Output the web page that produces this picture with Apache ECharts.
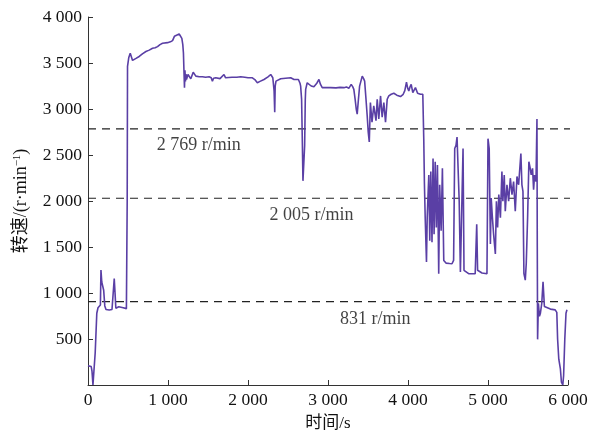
<!DOCTYPE html>
<html><head><meta charset="utf-8">
<script src="https://cdn.jsdelivr.net/npm/echarts@6/dist/echarts.min.js"></script>
<style>html,body{margin:0;padding:0;background:#fff}#c{width:597px;height:437px}</style>
</head><body><div id="c"></div>
<script>
// time (s), speed (r/min)
const speedData = [
[0,210],[20,205],[40,200],[50,150],[62,0],[75,0],[90,350],[110,780],[125,840],[145,860],[155,870],[162,1250],[172,1120],[180,1090],[188,1080],[196,1030],[210,860],[225,820],[245,830],[265,815],[285,830],[300,820],[315,830],[328,1157],[338,1000],[348,835],[365,840],[385,850],[410,845],[440,840],[465,835],[480,830],[487,840],[490,2000],[494,3464],[510,3560],[528,3607],[557,3528],[600,3550],[640,3571],[680,3600],[724,3625],[765,3640],[807,3661],[840,3665],[869,3678],[900,3700],[932,3714],[994,3721],[1030,3730],[1057,3743],[1080,3790],[1098,3804],[1140,3815],[1160,3800],[1173,3768],[1185,3700],[1193,3607],[1200,3400],[1206,3232],[1212,3420],[1218,3300],[1225,3380],[1231,3321],[1250,3375],[1285,3328],[1315,3399],[1348,3357],[1390,3350],[1431,3350],[1470,3345],[1514,3350],[1540,3340],[1555,3303],[1570,3335],[1597,3339],[1650,3330],[1700,3375],[1720,3339],[1800,3345],[1860,3345],[1909,3350],[1960,3345],[2000,3340],[2055,3339],[2085,3320],[2117,3285],[2150,3300],[2200,3321],[2250,3350],[2284,3375],[2310,3340],[2317,3321],[2326,3200],[2334,2964],[2340,3250],[2350,3303],[2409,3328],[2470,3335],[2534,3339],[2575,3320],[2596,3303],[2630,3321],[2650,3280],[2658,3249],[2670,3106],[2680,2600],[2687,2219],[2700,2219],[2708,2600],[2716,3100],[2721,3214],[2740,3285],[2790,3250],[2824,3242],[2860,3280],[2887,3321],[2905,3270],[2928,3232],[2980,3232],[3032,3232],[3100,3230],[3150,3235],[3199,3232],[3230,3240],[3260,3225],[3290,3267],[3310,3240],[3323,3214],[3340,3100],[3353,3000],[3365,2945],[3380,3100],[3395,3249],[3428,3357],[3445,3330],[3458,3303],[3475,3106],[3490,2927],[3503,2749],[3516,2642],[3530,3071],[3550,2856],[3572,3034],[3600,2874],[3615,3106],[3635,2892],[3657,3142],[3677,2910],[3698,3071],[3719,2856],[3740,3106],[3760,3142],[3790,3160],[3823,3171],[3860,3150],[3906,3135],[3940,3160],[3960,3200],[3981,3292],[3995,3230],[4010,3196],[4025,3240],[4040,3267],[4060,3178],[4093,3232],[4120,3171],[4156,3160],[4185,3160],[4197,2677],[4205,2200],[4215,1819],[4231,1336],[4240,1819],[4260,2283],[4272,1569],[4285,2320],[4300,1551],[4313,2462],[4326,1640],[4340,2427],[4354,1711],[4368,2391],[4384,1210],[4396,2176],[4414,1676],[4430,2355],[4447,1354],[4475,1325],[4520,1320],[4550,1318],[4570,1354],[4584,2570],[4600,2605],[4613,2695],[4625,2677],[4640,1998],[4655,1229],[4675,1210],[4688,2570],[4700,1247],[4716,1229],[4758,1210],[4840,1210],[4859,1747],[4870,1247],[4925,1218],[4987,1210],[5000,2677],[5015,2570],[5030,1532],[5040,2033],[5055,1819],[5070,1640],[5092,1425],[5105,1998],[5120,1711],[5135,2069],[5155,1819],[5174,2320],[5186,1998],[5203,2283],[5216,1890],[5237,2176],[5258,1998],[5279,2248],[5300,2069],[5320,2212],[5341,1890],[5362,2266],[5383,2176],[5411,2516],[5424,2176],[5437,2105],[5449,1210],[5466,1140],[5478,1318],[5495,1819],[5511,2427],[5528,2355],[5540,2283],[5557,2355],[5570,2122],[5582,2283],[5600,2212],[5608,2212],[5612,2892],[5616,1500],[5620,496],[5630,888],[5643,746],[5655,781],[5672,888],[5688,1121],[5705,853],[5725,835],[5780,825],[5840,817],[5860,790],[5870,500],[5885,280],[5905,174],[5918,30],[5935,0],[5945,100],[5960,500],[5975,780],[5987,817]
];
const refValues = [2784, 2030, 906];
const refLabels = ['2 769 r/min', '2 005 r/min', '831 r/min'];
const refLabelAnchors = [[860, 2610], [2270, 1850], [3150, 715]];
const refLineEnd = 6080;
const xTickLabels = ['0', '1 000', '2 000', '3 000', '4 000', '5 000', '6 000'];
const yTickLabels = ['', '500', '1 000', '1 500', '2 000', '2 500', '3 000', '3 500', '4 000'];

const FONT = "'Liberation Serif','Times New Roman','Noto Sans CJK SC',serif";
const chart = echarts.init(document.getElementById('c'), null, {renderer: 'canvas'});
const series = [];
refValues.forEach(v => {
  series.push({
    type: 'line', data: [[0, v], [refLineEnd, v]], symbol: 'none', clip: false, silent: true,
    lineStyle: {color: '#222', width: 1.2, type: [8, 6]}, z: 1
  });
});
series.push({
  type: 'line', data: speedData, symbol: 'none', clip: false,
  lineStyle: {color: '#5a3fa5', width: 1.6}, z: 3
});
series.push({
  type: 'scatter', symbolSize: 0, silent: true,
  data: refLabelAnchors.map((p, i) => ({value: p, name: refLabels[i]})),
  label: {show: true, position: [0, 0], align: 'left', verticalAlign: 'middle',
    formatter: p => p.name, fontFamily: FONT, fontSize: 18, color: '#111'}
});
chart.setOption({
  animation: false,
  grid: {left: 88, right: 29, top: 17, bottom: 47.5},
  xAxis: {
    type: 'value', min: 0, max: 6000, interval: 1000,
    name: '时间/s', nameLocation: 'middle', nameGap: 30,
    nameTextStyle: {fontFamily: FONT, fontSize: 17, color: '#111'},
    axisLine: {show: true, lineStyle: {color: '#333', width: 1}},
    axisTick: {show: true, inside: true, length: 5, lineStyle: {color: '#333'}},
    axisLabel: {fontFamily: FONT, fontSize: 17.5, color: '#111', margin: 7,
      formatter: v => xTickLabels[Math.round(v / 1000)]},
    splitLine: {show: false}
  },
  yAxis: {
    type: 'value', min: 0, max: 4000, interval: 500,
    name: '转速/(r·min{sup|−1})', nameLocation: 'middle', nameGap: 57,
    nameTextStyle: {fontFamily: FONT, fontSize: 18, color: '#111',
      rich: {sup: {fontFamily: FONT, fontSize: 11, verticalAlign: 'top', padding: [0, 0, 8, 0], color: '#111'}}},
    axisLine: {show: true, lineStyle: {color: '#333', width: 1}},
    axisTick: {show: true, inside: true, length: 5, lineStyle: {color: '#333'}},
    axisLabel: {fontFamily: FONT, fontSize: 17.5, color: '#111', margin: 6,
      formatter: v => yTickLabels[Math.round(v / 500)]},
    splitLine: {show: false}
  },
  series: series
});
</script></body></html>
